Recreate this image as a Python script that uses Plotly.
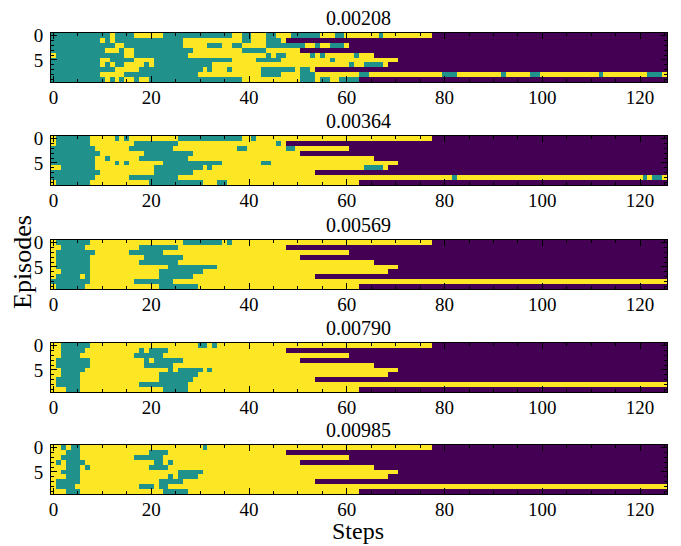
import plotly.graph_objects as go
from plotly.subplots import make_subplots

TITLES = ["0.00208", "0.00364", "0.00569", "0.00790", "0.00985"]
N_STEPS = 126
N_EPISODES = 10
# last step + 1 at which each episode is still alive
EPISODE_END = [78, 48, 61, 51, 66, 71, 69, 54, 126, 63]
# inclusive step ranges per episode in the middle state
MID_1 = [
    [(0,11),(13,16),(23,36),(39,40),(44,45),(49,54),(58,59),(67,67)],
    [(0,9),(11,11),(13,26),(39,40),(44,46)],
    [(0,12),(15,26),(32,34),(37,38),(44,51),(54,54),(57,59)],
    [(0,10),(14,14),(17,28),(39,43)],
    [(1,14),(17,27),(44,44),(46,47),(53,53),(55,55),(62,62)],
    [(0,9),(12,16),(21,36),(42,46),(57,57)],
    [(0,9),(11,11),(13,14),(19,19),(21,32),(61,61),(64,67)],
    [(0,12),(18,30),(32,32),(36,36),(43,49),(51,52)],
    [(0,9),(15,29),(43,46),(51,53),(63,64),(80,82),(92,92),(98,99),(112,112),(122,124)],
    [(0,10),(12,12),(14,14),(17,17),(20,38),(51,53),(55,56),(59,62)],
]
MID_2 = [
    [(1,7),(13,13),(15,15),(26,38),(41,41)],
    [(1,7),(17,25),(46,46)],
    [(0,8),(16,24),(38,39),(48,49)],
    [(0,9),(19,28)],
    [(0,8),(11,11),(18,27)],
    [(0,8),(13,13),(15,15),(23,34),(43,44)],
    [(2,8),(21,30),(32,32),(64,67)],
    [(0,9),(21,28)],
    [(0,8),(16,25),(82,82),(121,121),(123,124)],
    [(1,7),(20,30),(34,35)],
]
MID_3 = [
    [(1,7),(27,34),(36,36)],
    [(2,6),(18,25)],
    [(1,8),(16,22)],
    [(1,7),(19,26)],
    [(1,7),(18,25)],
    [(1,7),(24,33)],
    [(2,7),(22,30)],
    [(1,5),(7,7),(22,28)],
    [(0,7),(17,24)],
    [(1,6),(22,29)],
]
MID_4 = [
    [(2,7),(30,31),(33,33)],
    [(2,6),(18,18),(20,23)],
    [(2,5),(17,22)],
    [(1,7),(19,19),(21,26)],
    [(1,7),(19,24)],
    [(2,6),(24,24),(26,30),(32,32)],
    [(2,5),(22,29)],
    [(1,5),(22,28)],
    [(1,5),(18,27)],
    [(3,5),(23,27)],
]
MID_5 = [
    [(2,2),(4,5),(31,31)],
    [(3,5),(20,23)],
    [(2,5),(17,22)],
    [(1,1),(3,6),(21,22),(24,24)],
    [(3,5),(7,7),(20,23)],
    [(2,5),(26,30)],
    [(3,5),(24,24),(26,29)],
    [(1,5),(22,26)],
    [(1,4),(18,20),(22,23)],
    [(3,5),(23,27)],
]
PANELS = [MID_1, MID_2, MID_3, MID_4, MID_5]
SCALE = [[0, "#440154"], [0.5, "#21918c"], [1, "#fde725"]]
FONT = "Liberation Serif"


def grid(spans):
    rows = []
    for ep in range(N_EPISODES):
        row = [2 if s < EPISODE_END[ep] else 0 for s in range(N_STEPS)]
        for a, b in spans[ep]:
            for s in range(a, b + 1):
                row[s] = 1
        rows.append(row)
    return rows


fig = make_subplots(rows=5, cols=1)
tops = [33, 136, 240, 343, 445]
H = 49
W, HT = 681, 546
for i, spans in enumerate(PANELS):
    fig.add_trace(go.Heatmap(z=grid(spans), colorscale=SCALE, zmin=0, zmax=2,
                             showscale=False, hoverongaps=False), row=i + 1, col=1)
    xa = "xaxis" if i == 0 else f"xaxis{i+1}"
    ya = "yaxis" if i == 0 else f"yaxis{i+1}"
    fig.layout[xa].update(
        domain=[51 / W, 667 / W], range=[-0.5, 125.5], tickmode="array", automargin=False,
        tickvals=[0, 20, 40, 60, 80, 100, 120], ticks="inside", ticklen=6, tickwidth=1,
        tickcolor="black", mirror="ticks", showline=True, linecolor="black", linewidth=1,
        showgrid=False, zeroline=False, ticklabelstandoff=-2,
        minor=dict(tickmode="linear", tick0=0, dtick=5, ticks="inside", ticklen=3,
                   tickwidth=1, tickcolor="black", showgrid=False),
        tickfont=dict(family=FONT, size=19, color="black"))
    fig.layout[ya].update(
        domain=[1 - (tops[i] + H) / HT, 1 - tops[i] / HT], range=[9.5, -0.5], tickmode="array", automargin=False,
        tickvals=[0, 5], ticks="inside", ticklen=6, tickwidth=1,
        tickcolor="black", mirror="ticks", showline=True, linecolor="black", linewidth=1,
        showgrid=False, zeroline=False, ticklabelstandoff=3,
        minor=dict(tickmode="linear", tick0=0, dtick=1, ticks="inside", ticklen=3,
                   tickwidth=1, tickcolor="black", showgrid=False),
        tickfont=dict(family=FONT, size=19, color="black"))
    fig.add_annotation(text=TITLES[i], xref="paper", yref="paper", x=358 / W,
                       y=1 - (tops[i] - 2) / HT, xanchor="center", yanchor="bottom",
                       showarrow=False, font=dict(family=FONT, size=20, color="black"))

fig.add_annotation(text="Steps", xref="paper", yref="paper", x=358 / W, y=1 - 531 / HT,
                   xanchor="center", yanchor="middle", showarrow=False,
                   font=dict(family=FONT, size=24, color="black"))
fig.add_annotation(text="Episodes", xref="paper", yref="paper", x=22 / W, y=1 - 262 / HT,
                   xanchor="center", yanchor="middle", textangle=-90, showarrow=False,
                   font=dict(family=FONT, size=26, color="black"))
fig.update_layout(width=W, height=HT, margin=dict(l=0, r=0, t=0, b=0),
                  paper_bgcolor="white", plot_bgcolor="white", showlegend=False)
fig.write_html("out.html", config={"displayModeBar": False},
               post_script="document.body.style.margin='0';")
